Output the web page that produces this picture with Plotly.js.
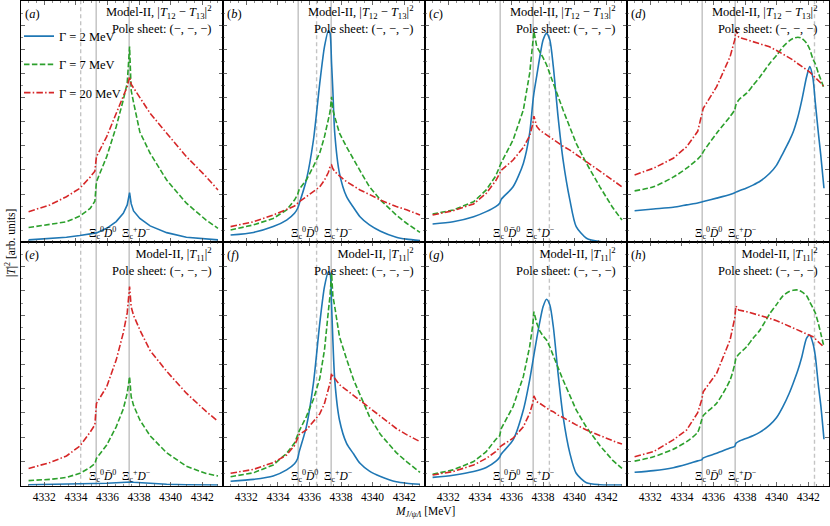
<!DOCTYPE html>
<html>
<head>
<meta charset="utf-8">
<script src="https://cdn.plot.ly/plotly-3.0.1.min.js"></script>
<style>html,body{margin:0;padding:0;background:#fff;}#plot{width:830px;height:526px;}</style>
</head>
<body>
<div id="plot"></div>
<script>
// ---------- data (arbitrary units) ----------
const gammaNames = ['Γ = 2 MeV', 'Γ = 7 MeV', 'Γ = 20 MeV'];
const panelLetters = ['a', 'b', 'c', 'd', 'e', 'f', 'g', 'h'];
const thresholds = [4335.28, 4337.37];
const thresholdLabels = ['Ξ<sub>c</sub><sup>0</sup><i>D̄</i><sup>0</sup>', 'Ξ<sub>c</sub><sup>+</sup><i>D</i><sup>−</sup>'];
const poles = [4334.3, 4336.45, 4338.4, 4342.4];
const topTitle = 'Model-II, |<i>T</i><sub>12</sub> − <i>T</i><sub>13</sub>|<sup>2</sup>';
const bottomTitle = 'Model-II, |<i>T</i><sub>11</sub>|<sup>2</sup>';
const sheetText = 'Pole sheet: (−, −, −)';

const xAE = [4331.0, 4332.35, 4333.4, 4334.25, 4334.9, 4335.2, 4335.3, 4335.95, 4336.55, 4337.0, 4337.25, 4337.4, 4337.5, 4337.65, 4338.05, 4338.7, 4339.75, 4341.0, 4342.25, 4343.0];
const aBlue  = [1.0, 1.5, 2.1, 2.8, 3.4, 3.7, 3.9, 5.8, 8.6, 12.0, 15.5, 20.6, 16.0, 13.0, 9.9, 6.8, 4.0, 2.1, 1.3, 1.0];
const aGreen = [6.1, 7.3, 8.5, 10.9, 14.0, 17.0, 25.1, 35.5, 47.9, 59.0, 66.0, 81.1, 63.0, 58.0, 45.7, 36.9, 25.8, 16.2, 9.2, 5.8];
const aRed   = [12.7, 15.5, 18.9, 22.4, 27.0, 29.5, 35.5, 43.8, 53.4, 60.6, 64.5, 68.6, 65.5, 64.0, 60.0, 53.5, 45.2, 35.5, 27.2, 21.7];
const eBlue  = [0.4, 0.5, 0.6, 0.7, 0.8, 0.9, 0.9, 1.0, 1.2, 1.4, 1.5, 1.7, 1.5, 1.4, 1.2, 0.9, 0.6, 0.4, 0.3, 0.3];
const eGreen = [2.1, 2.6, 3.4, 5.1, 7.5, 9.0, 11.2, 16.7, 24.2, 31.5, 38.0, 44.8, 36.6, 33.0, 27.0, 20.5, 13.5, 8.0, 5.0, 4.0];
const eRed   = [7.1, 9.5, 12.2, 16.3, 22.0, 25.0, 33.8, 40.7, 51.6, 62.8, 71.0, 81.8, 73.5, 70.0, 64.0, 55.5, 47.0, 38.0, 30.5, 26.5];

const xBF = [4331.0, 4332.45, 4333.7, 4334.55, 4335.05, 4335.25, 4335.35, 4335.8, 4336.25, 4336.65, 4336.95, 4337.2, 4337.3, 4337.4, 4337.48, 4337.6, 4337.9, 4338.35, 4338.8, 4339.2, 4339.8, 4340.5, 4341.5, 4342.15, 4343.0];
const bBlue  = [3.0, 4.1, 6.5, 9.2, 12.0, 14.1, 16.0, 25.8, 42.4, 65.9, 81.1, 87.7, 86.6, 74.0, 63.0, 45.2, 28.6, 18.9, 14.3, 10.6, 7.2, 4.6, 2.1, 1.3, 0.7];
const bGreen = [5.1, 7.2, 9.9, 13.4, 17.5, 19.8, 22.0, 25.8, 31.5, 37.0, 43.8, 51.5, 54.0, 60.3, 55.0, 52.0, 45.2, 39.5, 34.1, 29.7, 23.0, 17.5, 11.3, 7.9, 4.1];
const bRed   = [6.5, 8.5, 11.3, 13.7, 15.0, 16.2, 16.8, 18.9, 21.0, 23.0, 25.8, 29.0, 31.3, 32.0, 30.5, 29.3, 27.5, 25.1, 23.3, 21.7, 19.8, 17.5, 14.8, 13.5, 11.3];
const fBlue  = [1.8, 2.6, 4.0, 6.5, 9.0, 11.2, 14.0, 24.2, 42.1, 66.7, 81.8, 87.9, 87.3, 74.0, 60.0, 43.4, 27.0, 17.4, 13.0, 9.2, 6.0, 3.8, 1.6, 1.0, 0.6];
const fGreen = [3.7, 5.3, 8.5, 13.3, 17.5, 20.8, 22.5, 28.4, 35.5, 44.0, 55.8, 72.0, 78.0, 87.3, 78.0, 73.5, 61.2, 52.0, 43.4, 37.4, 28.4, 21.0, 13.6, 9.9, 5.5];
const fRed   = [5.1, 6.7, 9.5, 12.6, 16.5, 20.1, 21.0, 22.9, 26.5, 29.5, 33.8, 40.0, 42.1, 46.2, 45.0, 44.1, 41.5, 39.3, 37.0, 35.2, 32.0, 28.4, 23.5, 21.0, 18.1];

const xCG = [4331.0, 4332.3, 4333.6, 4334.4, 4335.0, 4335.25, 4335.35, 4336.1, 4336.75, 4337.15, 4337.35, 4337.42, 4337.6, 4337.8, 4338.0, 4338.22, 4338.43, 4338.65, 4338.95, 4339.27, 4339.7, 4340.1, 4340.75, 4341.6, 4342.4, 4343.0];
const cBlue  = [7.6, 8.5, 10.6, 12.7, 14.8, 16.2, 17.8, 23.0, 32.7, 45.2, 58.0, 61.8, 69.0, 77.0, 83.8, 86.6, 83.8, 72.8, 52.1, 34.1, 17.5, 6.5, 1.7, 0.3, 0.1, 0.1];
const cGreen = [11.7, 13.4, 16.8, 21.7, 27.5, 31.3, 33.0, 42.4, 54.8, 70.0, 82.0, 87.3, 81.1, 79.0, 76.5, 73.6, 70.0, 66.5, 60.5, 54.8, 47.5, 41.0, 32.7, 23.0, 14.5, 9.2];
const cRed   = [11.3, 13.1, 15.9, 20.3, 25.5, 28.6, 29.8, 34.1, 39.3, 44.1, 49.0, 52.3, 48.0, 46.4, 45.5, 44.5, 43.5, 42.3, 41.0, 39.8, 38.2, 36.3, 33.4, 29.5, 25.8, 23.0];
const gBlue  = [3.4, 4.3, 5.8, 7.5, 10.0, 11.7, 13.0, 18.8, 31.1, 43.4, 51.0, 53.7, 60.5, 67.5, 73.5, 76.6, 74.2, 65.3, 46.2, 28.4, 13.3, 5.1, 1.2, 0.4, 0.3, 0.3];
const gGreen = [4.7, 6.5, 9.9, 14.0, 19.0, 20.5, 23.5, 32.5, 44.8, 57.1, 66.0, 71.5, 66.7, 63.5, 61.5, 59.9, 57.0, 53.7, 48.5, 43.4, 37.0, 31.1, 24.0, 16.5, 10.5, 7.1];
const gRed   = [4.4, 5.8, 8.5, 11.2, 14.0, 15.5, 16.4, 19.5, 24.2, 29.7, 34.0, 36.9, 34.5, 33.8, 32.8, 31.8, 31.0, 30.4, 29.0, 28.0, 26.3, 25.0, 22.9, 20.5, 18.5, 17.1];

const xDH = [4331.0, 4332.2, 4333.45, 4334.3, 4335.0, 4335.25, 4335.35, 4336.2, 4337.05, 4337.35, 4337.42, 4337.6, 4338.1, 4338.5, 4338.95, 4339.55, 4340.0, 4340.4, 4340.8, 4341.05, 4341.35, 4341.6, 4341.9, 4342.1, 4342.3, 4342.45, 4342.65, 4342.8, 4343.0];
const dBlue  = [13.1, 13.8, 14.5, 15.5, 16.3, 16.7, 16.9, 18.3, 19.8, 20.5, 20.8, 21.3, 22.5, 23.7, 25.3, 28.5, 32.0, 36.9, 42.0, 45.7, 52.0, 59.0, 68.6, 72.8, 68.0, 58.0, 45.0, 36.0, 22.4];
const dGreen = [21.3, 23.0, 27.0, 30.7, 34.5, 36.2, 37.5, 45.2, 52.1, 55.0, 57.0, 59.0, 61.8, 65.0, 68.6, 74.0, 77.5, 81.0, 83.5, 84.5, 85.0, 84.5, 82.5, 80.0, 76.0, 74.0, 70.0, 67.5, 63.8];
const dRed   = [27.9, 30.7, 34.8, 39.6, 46.0, 52.0, 55.5, 64.5, 76.9, 84.0, 88.0, 85.0, 84.0, 83.1, 82.3, 81.0, 79.5, 78.0, 76.5, 75.5, 74.0, 73.0, 71.5, 70.5, 69.3, 68.5, 67.0, 66.0, 64.5];
const hBlue  = [5.5, 6.2, 7.4, 8.8, 10.2, 10.6, 11.4, 13.3, 15.5, 16.2, 17.4, 18.2, 19.5, 20.5, 22.0, 24.9, 28.0, 32.5, 38.0, 42.1, 47.5, 53.0, 60.6, 61.9, 58.5, 53.3, 41.0, 33.0, 19.1];
const hGreen = [10.1, 11.9, 15.0, 18.1, 22.0, 27.0, 28.8, 33.9, 43.4, 50.0, 52.3, 54.0, 57.1, 60.5, 64.0, 70.5, 74.5, 78.0, 79.8, 80.3, 80.4, 79.6, 78.0, 75.5, 73.0, 71.0, 66.5, 62.5, 57.1];
const hRed   = [11.9, 14.0, 18.8, 22.9, 30.0, 35.2, 38.6, 46.2, 59.9, 69.0, 73.8, 72.2, 71.5, 70.8, 69.8, 68.8, 67.8, 66.8, 65.5, 64.8, 64.0, 63.3, 62.5, 62.0, 61.2, 60.3, 59.0, 58.3, 56.9];

// ---------- styling ----------
const FONT = 'Liberation Serif, DejaVu Serif, serif';
const colors = ['#1f77b4', '#2ca02c', '#d62728'];
const dashes = ['solid', '5.5px,2.4px', '6.5px,2.2px,1.5px,2.2px'];
// which curves have a smooth (non-cusp) maximum: [panel][curve]
const smoothCurves = [
  [false, false, false], [true, false, false], [true, false, false], [true, true, false],
  [false, false, false], [true, false, false], [true, false, false], [true, true, false]
];

const panels = [
  {x: xAE, ys: [aBlue, aGreen, aRed]},
  {x: xBF, ys: [bBlue, bGreen, bRed]},
  {x: xCG, ys: [cBlue, cGreen, cRed]},
  {x: xDH, ys: [dBlue, dGreen, dRed]},
  {x: xAE, ys: [eBlue, eGreen, eRed]},
  {x: xBF, ys: [fBlue, fGreen, fRed]},
  {x: xCG, ys: [gBlue, gGreen, gRed]},
  {x: xDH, ys: [hBlue, hGreen, hRed]}
];

const W = 830, H = 526;
const colEdges = [20.7, 222.7, 424.7, 626.7, 828.7];
const rowEdges = [1.0, 242.3, 485.7];

const traces = [];
const layout = {
  width: W, height: H,
  margin: {l: 0, r: 0, t: 0, b: 0},
  paper_bgcolor: '#fff', plot_bgcolor: '#fff',
  font: {family: FONT, size: 12, color: '#000'},
  showlegend: true,
  legend: {x: 19 / W, y: 1 - 21.5 / H, xanchor: 'left', yanchor: 'top', bgcolor: 'rgba(0,0,0,0)',
           font: {family: FONT, size: 12.5}, itemwidth: 30, tracegroupgap: 9},
  shapes: [], annotations: []
};

panels.forEach((p, i) => {
  const col = i % 4, row = Math.floor(i / 4);
  const n = i + 1;
  const xa = 'xaxis' + (n === 1 ? '' : n), ya = 'yaxis' + (n === 1 ? '' : n);
  const xr = 'x' + (n === 1 ? '' : n), yr = 'y' + (n === 1 ? '' : n);
  layout[xa] = {
    domain: [colEdges[col] / W, colEdges[col + 1] / W], anchor: yr,
    range: [4330.5, 4343.3], tick0: 4332, dtick: 2, ticks: 'inside', ticklen: 4, tickwidth: 0.8,
    minor: {dtick: 0.5, ticklen: 2, tickwidth: 0.6, ticks: 'inside'},
    showline: true, linecolor: '#000', linewidth: 1, mirror: 'allticks',
    showgrid: false, zeroline: false, showticklabels: row === 1,
    tickfont: {family: FONT, size: 11.5}, fixedrange: true
  };
  layout[ya] = {
    domain: [1 - rowEdges[row + 1] / H, 1 - rowEdges[row] / H], anchor: xr,
    range: [0, 100], dtick: 10, ticks: 'inside', ticklen: 4, tickwidth: 0.8,
    minor: {dtick: 5, ticklen: 2, tickwidth: 0.6, ticks: 'inside'},
    showline: true, linecolor: '#000', linewidth: 1, mirror: 'allticks',
    showgrid: false, zeroline: false, showticklabels: false, fixedrange: true
  };
  // pole & threshold vertical lines
  layout.shapes.push({type: 'line', xref: xr, yref: yr + ' domain', x0: poles[col], x1: poles[col], y0: 0, y1: 1,
    line: {color: '#c4c4c4', width: 1.4, dash: '4px,3px'}, layer: 'below'});
  thresholds.forEach(t => layout.shapes.push({type: 'line', xref: xr, yref: yr + ' domain', x0: t, x1: t, y0: 0, y1: 1,
    line: {color: '#a6a6a6', width: 1}, layer: 'below'}));
  // curves
  p.ys.forEach((y, k) => traces.push({
    type: 'scatter', mode: 'lines', x: p.x, y: y, xaxis: xr, yaxis: yr,
    name: gammaNames[k], legendgroup: 'g' + k, showlegend: i === 0,
    line: {color: colors[k], width: 1.6, dash: dashes[k],
           shape: smoothCurves[i][k] ? 'spline' : 'linear', smoothing: 0.7},
    hoverinfo: 'x+y+name'
  }));
  // texts
  layout.annotations.push({xref: xr + ' domain', yref: yr + ' domain', x: 0.012, y: 0.985, xanchor: 'left', yanchor: 'top',
    text: '(<i>' + panelLetters[i] + '</i>)', showarrow: false, font: {family: FONT, size: 12.5}});
  layout.annotations.push({xref: xr + ' domain', yref: yr + ' domain', x: 0.955, y: 0.998, xanchor: 'right', yanchor: 'top',
    text: (row === 0 ? topTitle : bottomTitle) + '<br>' + sheetText, align: 'right', showarrow: false,
    font: {family: FONT, size: 12.5}});
  thresholds.forEach((t, k) => layout.annotations.push({xref: xr, yref: yr + ' domain', x: t - 0.55, y: 0.04,
    xanchor: 'left', yanchor: 'middle', text: thresholdLabels[k], showarrow: false,
    font: {family: FONT, size: 11.5}}));
});

layout.annotations.push({xref: 'paper', yref: 'paper', x: 10 / W, y: 1 - 243 / H, xanchor: 'center', yanchor: 'middle',
  textangle: -90, text: '|<i>T</i>|<sup>2</sup> [arb. units]', showarrow: false, font: {family: FONT, size: 11.5}});
layout.annotations.push({xref: 'paper', yref: 'paper', x: 425 / W, y: 1 - 512 / H, xanchor: 'center', yanchor: 'middle',
  text: '<i>M</i><sub><i>J/ψΛ</i></sub> [MeV]', showarrow: false, font: {family: FONT, size: 11.5}});

Plotly.newPlot('plot', traces, layout, {displayModeBar: false, staticPlot: true});
</script>
</body>
</html>
